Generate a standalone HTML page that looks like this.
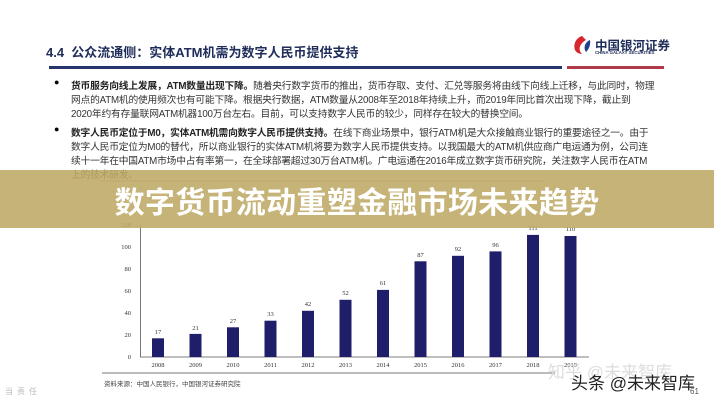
<!DOCTYPE html>
<html><head><meta charset="utf-8"><style>
body{margin:0;width:714px;height:400px;overflow:hidden;background:#fff;position:relative;font-family:"Liberation Sans","Noto Sans CJK SC",sans-serif}
.a{position:absolute;white-space:nowrap}
.p{font-size:9.75px;color:#333;left:71px;letter-spacing:-0.2px}
.b{font-weight:bold;color:#222}
</style></head><body>
<div class="a" style="left:46px;top:42px;font-size:13px;font-weight:bold;color:#1f2d5a">4.4&nbsp; 公众流通侧：实体ATM机需为数字人民币提供支持</div>
<div class="a" style="left:49px;top:66px;width:513px;height:3px;background:#27356b"></div>
<div class="a" style="left:567px;top:66px;width:97px;height:3px;background:#b03a48"></div>
<svg class="a" style="left:572px;top:35px" width="20" height="20"><path d="M10 1C4 3 1 9 3 15C5 19 10 19 10 19C6 15 7 9 14 5Z" fill="#d8262e"/><path d="M18 5C13 7 11 13 14 17C16 15 19 11 18 5Z" fill="#21408a"/></svg>
<div class="a" style="left:595px;top:35px;font-size:12.5px;font-weight:bold;color:#1f2d5a">中国银河证券</div>
<div class="a" style="left:595px;top:50px;font-size:4.3px;font-weight:bold;color:#1f2d5a">CHINA GALAXY SECURITIES</div>
<div class="a" style="left:54px;top:77px;font-size:9px">●</div>
<div class="a p" style="top:78px"><span class="b">货币服务向线上发展，ATM数量出现下降。</span>随着央行数字货币的推出，货币存取、支付、汇兑等服务将由线下向线上迁移，与此同时，物理</div>
<div class="a p" style="top:92px">网点的ATM机的使用频次也有可能下降。根据央行数据，ATM数量从2008年至2018年持续上升，而2019年同比首次出现下降，截止到</div>
<div class="a p" style="top:106px">2020年约有存量联网ATM机器100万台左右。目前，可以支持数字人民币的较少，同样存在较大的替换空间。</div>
<div class="a" style="left:54px;top:124px;font-size:9px">●</div>
<div class="a p" style="top:125px"><span class="b">数字人民币定位于M0，实体ATM机需向数字人民币提供支持。</span>在线下商业场景中，银行ATM机是大众接触商业银行的重要途径之一。由于</div>
<div class="a p" style="top:139px">数字人民币定位为M0的替代，所以商业银行的实体ATM机将要为数字人民币提供支持。以我国最大的ATM机供应商广电运通为例，公司连</div>
<div class="a p" style="top:153px">续十一年在中国ATM市场中占有率第一，在全球部署超过30万台ATM机。广电运通在2016年成立数字货币研究院，关注数字人民币在ATM</div>
<div class="a p" style="top:167px">上的技术研发。</div>
<svg class="a" style="left:0;top:0" width="714" height="400" font-family="Liberation Serif,serif" font-size="6.5" fill="#333">
<line x1="100" y1="181" x2="545" y2="181" stroke="#999" stroke-width="0.8"/>
<line x1="140.5" y1="225" x2="140.5" y2="357" stroke="#555" stroke-width="0.8"/>
<line x1="140" y1="357" x2="589" y2="357" stroke="#555" stroke-width="0.8"/>
<g text-anchor="end">
<text x="131" y="227">120</text><text x="131" y="249">100</text><text x="131" y="271">80</text><text x="131" y="293">60</text><text x="131" y="315">40</text><text x="131" y="337">20</text><text x="131" y="359">0</text></g>
<g fill="#1f1e6a">
<rect x="152" y="338.3" width="12" height="18.7"/><rect x="189.5" y="333.9" width="12" height="23.1"/><rect x="227" y="327.3" width="12" height="29.7"/><rect x="264.5" y="320.7" width="12" height="36.3"/><rect x="302" y="310.8" width="12" height="46.2"/><rect x="339.5" y="299.8" width="12" height="57.2"/><rect x="377" y="289.9" width="12" height="67.1"/><rect x="414.5" y="261.3" width="12" height="95.7"/><rect x="452" y="255.8" width="12" height="101.2"/><rect x="489.5" y="251.4" width="12" height="105.6"/><rect x="527" y="234.9" width="12" height="122.1"/><rect x="564.5" y="236" width="12" height="121"/></g>
<g text-anchor="middle">
<text x="158" y="334">17</text><text x="195.5" y="330">21</text><text x="233" y="323">27</text><text x="270.5" y="316">33</text><text x="308" y="306">42</text><text x="345.5" y="295">52</text><text x="383" y="285">61</text><text x="420.5" y="257">87</text><text x="458" y="251">92</text><text x="495.5" y="247">96</text><text x="533" y="230">111</text><text x="570.5" y="231">110</text>
<text x="158" y="367">2008</text><text x="195.5" y="367">2009</text><text x="233" y="367">2010</text><text x="270.5" y="367">2011</text><text x="308" y="367">2012</text><text x="345.5" y="367">2013</text><text x="383" y="367">2014</text><text x="420.5" y="367">2015</text><text x="458" y="367">2016</text><text x="495.5" y="367">2017</text><text x="533" y="367">2018</text><text x="570.5" y="367">2019</text></g>
<line x1="102" y1="373" x2="555" y2="373" stroke="#777" stroke-width="1"/>
</svg>
<div class="a" style="left:104px;top:378px;font-size:6.5px;color:#444">资料来源：中国人民银行，中国银河证券研究院</div>
<div class="a" style="left:5px;top:386px;font-size:8px;color:#bbb;letter-spacing:4px">当责任</div>
<div class="a" style="left:548px;top:358px;font-size:17px;color:#ddd">知乎 @未来智库</div>
<div class="a" style="left:571px;top:369px;font-size:17px;color:#222;text-shadow:0 0 2px #fff">头条 @未来智库</div>
<div class="a" style="left:690px;top:387px;font-size:8px;color:#555">61</div>
<div class="a" style="left:0;top:170px;width:714px;height:58px;background:rgba(190,168,100,0.88)"></div>
<div class="a" style="left:0;top:179px;width:714px;text-align:center;font-size:30px;font-weight:bold;color:#fff;letter-spacing:0.3px;font-family:'Noto Sans CJK SC',sans-serif;line-height:42px">数字货币流动重塑金融市场未来趋势</div>
</body></html>
